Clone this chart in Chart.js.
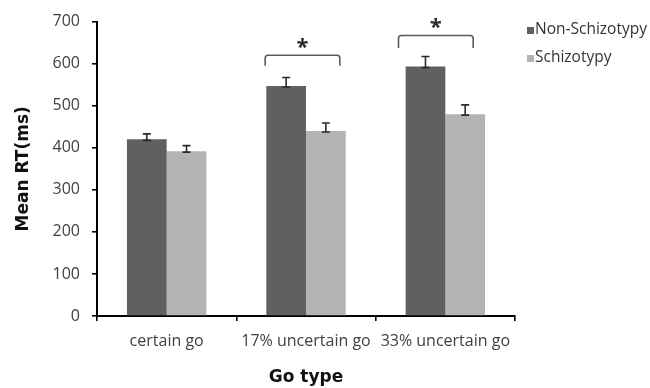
<!DOCTYPE html>
<html>
<head>
<meta charset="utf-8">
<script src="https://cdn.jsdelivr.net/npm/chart.js@4"></script>
<style>
  html, body { margin: 0; padding: 0; background: #fff; }
  #wrap { width: 650px; height: 388px; }
</style>
</head>
<body>
<div id="wrap"><canvas id="c"></canvas></div>
<script>
// Mean reaction time per go condition, by group
const categories = ['certain go', '17% uncertain go', '33% uncertain go'];
const seriesNames = ['Non-Schizotypy', 'Schizotypy'];
const nonSchizotypy = [420, 547, 593];
const schizotypy = [392, 440, 480];
const nonSchizotypyErr = [13, 20, 24];
const schizotypyErr = [13, 19, 22];
const yTicks = [0, 100, 200, 300, 400, 500, 600, 700];
// significant group differences (category index and marker text)
const sigCategories = [1, 2];
const sigLabels = ['*', '*'];

const COLORS = ['#606060', '#b3b3b3'];
const FONT = "'Open Sans', sans-serif";
const TITLE_FONT = "'DejaVu Sans', sans-serif";

// bracket geometry for each significance marker (data-unit heights, px offsets from bar centres)
const bracketStyle = [
  { top: 620, foot: 595, dxLeft: -21, dxRight: 14 },
  { top: 667, foot: 637, dxLeft: -27, dxRight: 8 }
];

const errors = [nonSchizotypyErr, schizotypyErr];

const errorBars = {
  id: 'errorBars',
  afterDatasetsDraw(chart) {
    const { ctx } = chart;
    const y = chart.scales.y;
    ctx.save();
    ctx.strokeStyle = '#2a2a2a';
    ctx.lineWidth = 1.6;
    chart.data.datasets.forEach((ds, i) => {
      const meta = chart.getDatasetMeta(i);
      meta.data.forEach((bar, j) => {
        const v = ds.data[j];
        const top = y.getPixelForValue(v + errors[i][j]);
        const base = y.getPixelForValue(v) + 1;
        const cap = 4;
        ctx.beginPath();
        ctx.moveTo(bar.x, base); ctx.lineTo(bar.x, top);
        ctx.moveTo(bar.x - cap, top); ctx.lineTo(bar.x + cap, top);
        ctx.moveTo(bar.x - cap, base); ctx.lineTo(bar.x + cap, base);
        ctx.stroke();
      });
    });
    ctx.restore();
  }
};

const sigBrackets = {
  id: 'sigBrackets',
  afterDatasetsDraw(chart) {
    const { ctx } = chart;
    const y = chart.scales.y;
    const m0 = chart.getDatasetMeta(0), m1 = chart.getDatasetMeta(1);
    ctx.save();
    sigCategories.forEach((c, k) => {
      const st = bracketStyle[k];
      const x1 = m0.data[c].x + st.dxLeft;
      const x2 = m1.data[c].x + st.dxRight;
      const yt = y.getPixelForValue(st.top);
      const yf = y.getPixelForValue(st.foot);
      const r = 3;
      ctx.strokeStyle = '#5a5a5a';
      ctx.lineWidth = 1.6;
      ctx.beginPath();
      ctx.moveTo(x1, yf);
      ctx.lineTo(x1, yt + r);
      ctx.quadraticCurveTo(x1, yt, x1 + r, yt);
      ctx.lineTo(x2 - r, yt);
      ctx.quadraticCurveTo(x2, yt, x2, yt + r);
      ctx.lineTo(x2, yf);
      ctx.stroke();
      ctx.fillStyle = '#2a2a2a';
      ctx.font = "bold 22px " + FONT;
      ctx.textAlign = 'center';
      ctx.textBaseline = 'middle';
      ctx.fillText(sigLabels[k], (x1 + x2) / 2, yt - 8);
    });
    ctx.restore();
  }
};

const sideLegend = {
  id: 'sideLegend',
  afterDraw(chart) {
    const { ctx } = chart;
    ctx.save();
    ctx.font = "15.5px " + FONT;
    ctx.textBaseline = 'middle';
    ctx.textAlign = 'left';
    seriesNames.forEach((name, i) => {
      const cy = 30 + i * 28;
      ctx.fillStyle = COLORS[i];
      ctx.fillRect(527, cy - 3, 7, 7);
      ctx.fillStyle = '#333';
      ctx.fillText(name, 535, cy);
    });
    ctx.restore();
  }
};

new Chart(document.getElementById('c'), {
  type: 'bar',
  data: {
    labels: categories,
    datasets: [
      { label: seriesNames[0], data: nonSchizotypy, backgroundColor: COLORS[0], borderWidth: 0 },
      { label: seriesNames[1], data: schizotypy, backgroundColor: COLORS[1], borderWidth: 0 }
    ]
  },
  options: {
    responsive: true,
    maintainAspectRatio: false,
    animation: false,
    devicePixelRatio: 1,
    layout: { padding: { top: 20, right: 135, left: 0, bottom: 0 } },
    datasets: { bar: { barPercentage: 1.0, categoryPercentage: 0.57 } },
    plugins: { legend: { display: false }, tooltip: { enabled: false } },
    scales: {
      x: {
        afterFit(s) { s.height = 72; },
        border: { display: true, color: '#000', width: 2 },
        grid: { drawOnChartArea: false, drawTicks: true, tickLength: 5, color: '#000', lineWidth: 1.6, offset: true },
        ticks: { color: '#404040', font: { family: FONT, size: 16 }, padding: 11, maxRotation: 0, autoSkip: false },
        title: { display: true, text: 'Go type', color: '#111', font: { family: TITLE_FONT, size: 17, weight: 'bold' }, padding: { top: 8, bottom: 0 } }
      },
      y: {
        min: 0, max: 700,
        afterFit(s) { s.width = 97; },
        afterBuildTicks(s) { s.ticks = yTicks.map(v => ({ value: v })); },
        border: { display: true, color: '#000', width: 2 },
        grid: { drawOnChartArea: false, drawTicks: true, tickLength: 5, color: '#000', lineWidth: 1.6 },
        ticks: { color: '#404040', font: { family: FONT, size: 16 }, padding: 12 },
        title: { display: true, text: 'Mean RT(ms)', color: '#111', font: { family: TITLE_FONT, size: 17, weight: 'bold' }, padding: { top: 13, bottom: 4 } }
      }
    }
  },
  plugins: [errorBars, sigBrackets, sideLegend]
});
</script>
</body>
</html>
